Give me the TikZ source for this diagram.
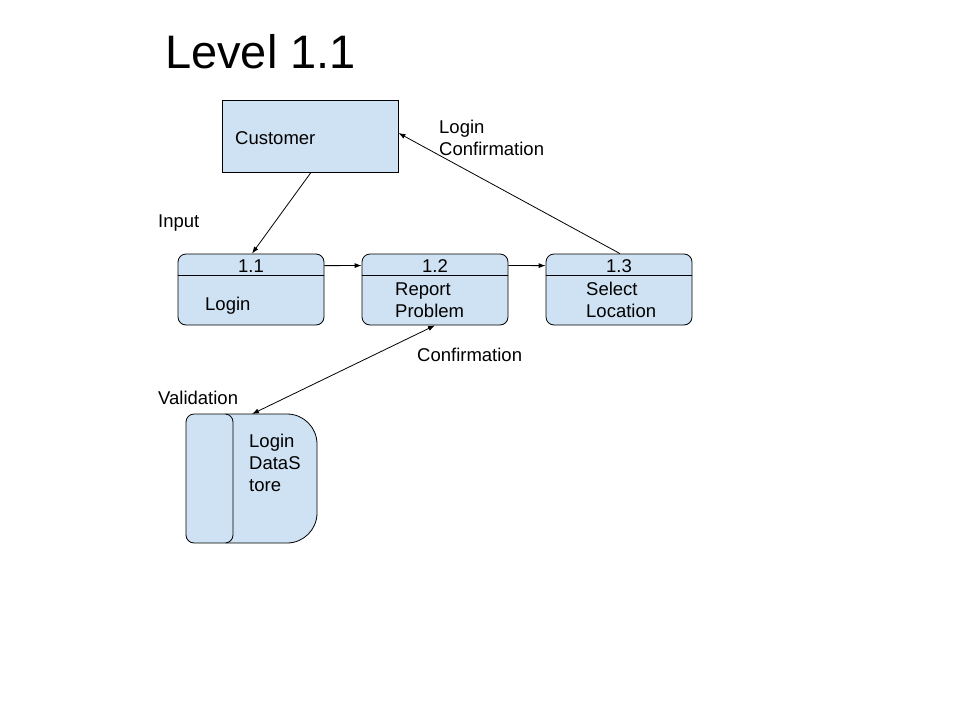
\documentclass[tikz,border=0pt]{standalone}
\usepackage{fontspec}
\setmainfont{Liberation Sans}
\usetikzlibrary{arrows.meta}
\definecolor{boxblue}{HTML}{CFE2F3}

\tikzset{
	txt/.style={anchor=base west, inner sep=0pt, align=left, font=\fontsize{18.5}{22}\selectfont},
	num/.style={anchor=base, inner sep=0pt, font=\fontsize{18.5}{22}\selectfont},
	flow/.style={-{Latex[length=7pt,width=5pt]}, line width=0.8pt},
	procbox/.style={draw, fill=boxblue, rounded corners=8pt, minimum width=146pt, minimum height=71pt, inner sep=0pt, line width=0.8pt},
}

\begin{document}
\begin{tikzpicture}[x=1pt, y=-1pt]
		%%%%% START %%%%%
		\useasboundingbox (0,0) rectangle (960,720);
		\fill[white] (0,0) rectangle (960,720);
		
		\node[anchor=base west, inner sep=0pt, font=\fontsize{47}{56}\selectfont] (title) at (165,68) {Level 1.1};
		
		% customer
		\node[draw, fill=boxblue, minimum width=176pt, minimum height=72pt, line width=0.8pt] (cust) at (310,136) {};
		\node[txt] (custtxt) at (235,144) {Customer};
		
		% processes
		\node[procbox] (p11) at (251,289.5) {};
		\node[procbox] (p12) at (435,289.5) {};
		\node[procbox] (p13) at (619,289.5) {};
		\foreach \p in {p11,p12,p13}
			\draw[line width=0.8pt] ([yshift=-22pt]\p.north west) -- ([yshift=-22pt]\p.north east);
		\node[num] (n11) at (251,272) {1.1};
		\node[num] (n12) at (435,272) {1.2};
		\node[num] (n13) at (619,272) {1.3};
		\node[txt] (t11) at (205,310) {Login};
		\node[txt] (t12) at (395,317) {Report\\Problem};
		\node[txt] (t13) at (586,317) {Select\\Location};
		
		% data store
		\draw[fill=boxblue, line width=0.8pt] (226,414) -- (287,414) arc (-90:0:30) -- (317,513) arc (0:90:30) -- (226,543) -- cycle;
		\draw[fill=boxblue, line width=0.8pt, rounded corners=8pt] (186,414) rectangle (233,543);
		\node[txt] (dstxt) at (249,491) {Login\\DataS\\tore};
		\coordinate (ds) at (252,414);
		
		% flows
		\draw[flow] ([xshift=1pt]cust.south) -- ([xshift=1pt]p11.north);
		\draw[flow] (p11.east |- n11.center) -- (p12.west |- n12.center);
		\draw[flow] (p12.east |- n12.center) -- (p13.west |- n13.center);
		\draw[flow] ([xshift=1pt]p13.north) -- ([yshift=3pt]cust.east);
		\draw[flow, {Latex[length=7pt,width=5pt]}-{Latex[length=7pt,width=5pt]}] (ds) -- (p12.south);
		
		% labels
		\node[txt] (lin) at (158,227) {Input};
		\node[txt] (lconf) at (439,155) {Login\\Confirmation};
		\node[txt] (conf) at (417,361) {Confirmation};
		\node[txt] (valid) at (158,404) {Validation};
		%%%%% END %%%%%
	\end{tikzpicture}
\end{document}
